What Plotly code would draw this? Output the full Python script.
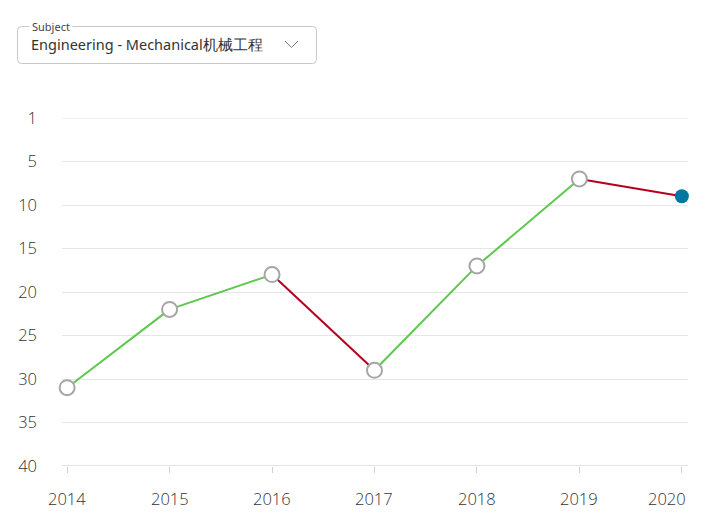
import plotly.graph_objects as go

years = [2014, 2015, 2016, 2017, 2018, 2019, 2020]
ranks = [31, 22, 18, 29, 17, 7, 9]
y_tick_vals = [0, 5, 10, 15, 20, 25, 30, 35, 40]
y_tick_text = ["1", "5", "10", "15", "20", "25", "30", "35", "40"]
subject_label = "Subject"
subject_value = "Engineering - Mechanical机械工程"

GREEN = "#5cc84c"
RED = "#b3001e"
BLUE = "#0077a0"
FONT = "Noto Sans"
TICKFONT = "Open Sans, Noto Sans"

# page has an 8px body margin; work in figure coordinates
OFF = 8
W, H = 721, 528
ml, mt = 62 - OFF, 118 - OFF
plot_right, plot_bottom = 688 - OFF, 466 - OFF
mr, mb = W - plot_right, H - plot_bottom
pw, ph = W - ml - mr, H - mt - mb
X_RANGE = [2013.95, 2020.06]

fig = go.Figure()

# line segments colored by direction (improve = green, worsen = red)
for i in range(len(years) - 1):
    color = GREEN if ranks[i + 1] < ranks[i] else RED
    fig.add_trace(go.Scatter(
        x=[years[i], years[i + 1]], y=[ranks[i], ranks[i + 1]],
        mode="lines", line=dict(color=color, width=2),
        hoverinfo="skip", showlegend=False, cliponaxis=False))

# hollow markers for past years
fig.add_trace(go.Scatter(
    x=years[:-1], y=ranks[:-1], mode="markers",
    marker=dict(size=15, color="white", line=dict(color="#a6a6a6", width=2)),
    showlegend=False, cliponaxis=False))
# latest year filled marker
fig.add_trace(go.Scatter(
    x=years[-1:], y=ranks[-1:], mode="markers",
    marker=dict(size=14, color=BLUE, line=dict(width=0)),
    showlegend=False, cliponaxis=False))


def px(x):
    return (x - OFF - ml) / pw


def py(y):
    return (H - mb - (y - OFF)) / ph


x0, x1, y0, y1, r = 17.5, 316.5, 26.5, 63.5, 4
path = (f"M {px(x0+r)},{py(y0)} L {px(x1-r)},{py(y0)} "
        f"Q {px(x1)},{py(y0)} {px(x1)},{py(y0+r)} L {px(x1)},{py(y1-r)} "
        f"Q {px(x1)},{py(y1)} {px(x1-r)},{py(y1)} L {px(x0+r)},{py(y1)} "
        f"Q {px(x0)},{py(y1)} {px(x0)},{py(y1-r)} L {px(x0)},{py(y0+r)} "
        f"Q {px(x0)},{py(y0)} {px(x0+r)},{py(y0)} Z")
fig.add_shape(type="path", xref="paper", yref="paper", path=path,
              line=dict(color="#c8c8c8", width=1), fillcolor="rgba(0,0,0,0)")
# chevron
fig.add_shape(type="path", xref="paper", yref="paper",
              path=f"M {px(285)},{py(41)} L {px(291.5)},{py(47.5)} L {px(298)},{py(41)}",
              line=dict(color="#777777", width=1))

fig.add_annotation(xref="paper", yref="paper", x=px(29), y=py(26.5),
                   text=subject_label, showarrow=False, xanchor="left", yanchor="middle",
                   bgcolor="white", borderpad=2,
                   font=dict(family=FONT, size=11, color="#444444"))
fig.add_annotation(xref="paper", yref="paper", x=px(29), y=py(44.5),
                   text=subject_value, showarrow=False, xanchor="left", yanchor="middle",
                   font=dict(family=FONT, size=14.5, color="#333333"))

tickfont = dict(family=TICKFONT, size=16.5, color="#333333", weight=300)

# x tick labels as annotations; the last one is kept inside the plot edge
for i, yr in enumerate(years):
    last = i == len(years) - 1
    fig.add_annotation(xref="x", yref="paper", x=X_RANGE[1] if last else yr, y=0,
                       yshift=-19, text=str(yr), showarrow=False,
                       xanchor="right" if last else "center", yanchor="top",
                       font=tickfont)

fig.update_layout(
    width=W, height=H,
    margin=dict(l=ml, r=mr, t=mt, b=mb, autoexpand=False),
    plot_bgcolor="white", paper_bgcolor="white",
    font=dict(family=FONT, size=15, color="#333333"),
    xaxis=dict(range=X_RANGE, tickvals=years, showticklabels=False, automargin=False,
               showgrid=False, zeroline=False, showline=False,
               ticks="outside", ticklen=6, tickcolor="#d0d0d0"),
    yaxis=dict(range=[40, 0], tickvals=y_tick_vals, ticktext=y_tick_text, automargin=False,
               showgrid=True, gridcolor="#e6e6e6", zeroline=False, showline=False,
               ticks="", ticklabelstandoff=24,
               tickfont=tickfont),
)
# top gridline (rank 1) and bottom axis line
fig.add_shape(type="line", xref="paper", yref="y", x0=0, x1=1, y0=0, y1=0,
              line=dict(color="#e6e6e6", width=1), layer="below")
fig.add_shape(type="line", xref="paper", yref="y", x0=0, x1=1, y0=40, y1=40,
              line=dict(color="#c8c8c8", width=1), layer="below")

fig.write_html("out.html")
